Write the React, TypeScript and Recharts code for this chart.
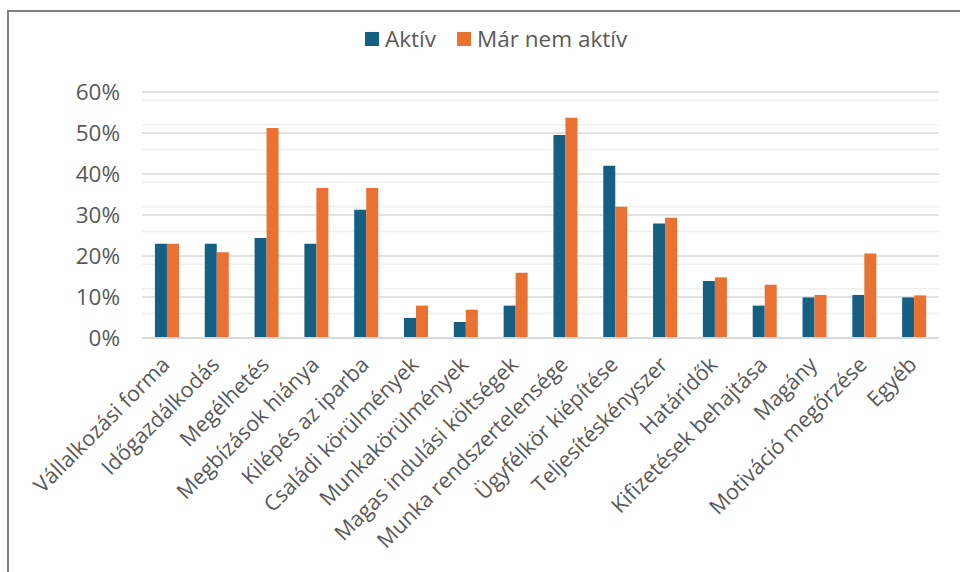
import { BarChart, Bar, XAxis, YAxis, CartesianGrid } from 'recharts';

const categories = [
  'Vállalkozási forma',
  'Időgazdálkodás',
  'Megélhetés',
  'Megbízások hiánya',
  'Kilépés az iparba',
  'Családi körülmények',
  'Munkakörülmények',
  'Magas indulási költségek',
  'Munka rendszertelensége',
  'Ügyfélkör kiépítése',
  'Teljesítéskényszer',
  'Határidők',
  'Kifizetések behajtása',
  'Magány',
  'Motiváció megőrzése',
  'Egyéb',
];
const aktiv = [23, 23, 24.4, 23, 31.3, 4.9, 3.9, 7.9, 49.5, 42, 27.9, 13.9, 7.9, 9.9, 10.5, 9.9];
const marNemAktiv = [23, 20.9, 51.2, 36.6, 36.6, 7.9, 6.9, 15.9, 53.7, 32, 29.3, 14.8, 13, 10.5, 20.6, 10.4];
const yTicks = [0, 10, 20, 30, 40, 50, 60];
const minorTicks = [2, 4, 6, 8, 12, 14, 16, 18, 22, 24, 26, 28, 32, 34, 36, 38, 42, 44, 46, 48, 52, 54, 56, 58];

const BLUE = '#156082';
const ORANGE = '#E97132';
const TEXT = '#595959';
const FONT = '"Open Sans", "Liberation Sans", sans-serif';

const chartData = categories.map((name, i) => ({
  name,
  aktiv: aktiv[i],
  marNemAktiv: marNemAktiv[i],
}));

function CategoryTick(props: any) {
  const { x, y, payload } = props;
  const ax = x + 4;
  const ay = y + 20;
  return (
    <text
      x={ax}
      y={ay}
      transform={`rotate(-45, ${ax}, ${ay})`}
      textAnchor="end"
      fontSize={21.5}
      fill={TEXT}
      fontFamily={FONT}
    >
      {payload.value}
    </text>
  );
}

export default function App() {
  return (
    <div
      style={{
        position: 'fixed',
        left: 0,
        top: 0,
        width: 960,
        height: 572,
        background: '#fff',
        overflow: 'hidden',
        fontFamily: FONT,
      }}
    >
      <div
        style={{
          position: 'absolute',
          left: 7,
          top: 10,
          width: 1100,
          height: 800,
          borderTop: '2px solid #7f7f7f',
          borderLeft: '2px solid #7f7f7f',
        }}
      />
      <div
        style={{
          position: 'absolute',
          left: 365,
          top: 23,
          display: 'flex',
          alignItems: 'center',
          fontSize: 22.5,
          color: TEXT,
          whiteSpace: 'nowrap',
        }}
      >
        <span style={{ width: 14, height: 14, background: BLUE, display: 'inline-block', marginRight: 6 }} />
        <span style={{ marginRight: 21 }}>Aktív</span>
        <span style={{ width: 14, height: 14, background: ORANGE, display: 'inline-block', marginRight: 6 }} />
        <span>Már nem aktív</span>
      </div>
      <div style={{ position: 'absolute', left: 0, top: 0 }}>
        <BarChart
          width={960}
          height={572}
          data={chartData}
          margin={{ top: 92, right: 21, bottom: 14, left: 0 }}
          barCategoryGap="26%"
          barGap={0}
        >
          <CartesianGrid vertical={false} horizontalValues={minorTicks} stroke="#f0f0f0" strokeWidth={1.5} />
          <CartesianGrid vertical={false} stroke="#d9d9d9" strokeWidth={1.5} />
          <XAxis
            dataKey="name"
            interval={0}
            height={220}
            tickLine={false}
            axisLine={{ stroke: '#d9d9d9', strokeWidth: 2 }}
            tick={<CategoryTick />}
          />
          <YAxis
            width={142}
            domain={[0, 60]}
            ticks={yTicks}
            axisLine={false}
            tickLine={false}
            tickSize={0}
            tickMargin={22}
            tickFormatter={(v) => `${v}%`}
            tick={{ fontSize: 22.5, fill: TEXT, fontFamily: FONT }}
          />
          <Bar dataKey="aktiv" name="Aktív" fill={BLUE} isAnimationActive={false} />
          <Bar dataKey="marNemAktiv" name="Már nem aktív" fill={ORANGE} isAnimationActive={false} />
        </BarChart>
      </div>
    </div>
  );
}
